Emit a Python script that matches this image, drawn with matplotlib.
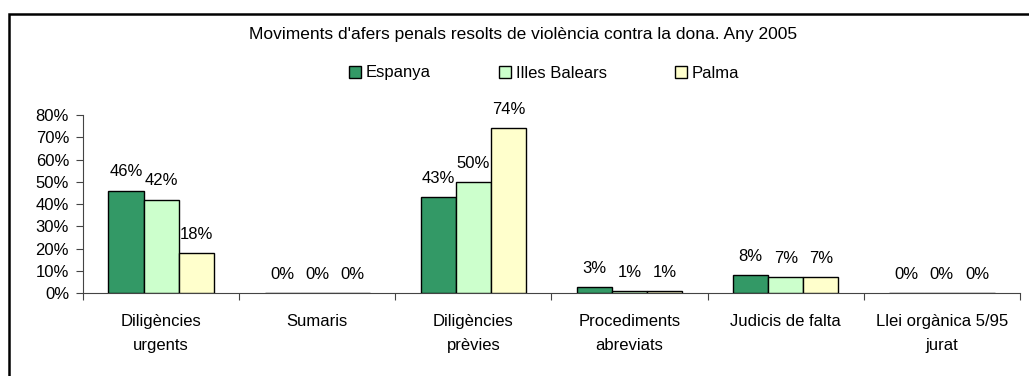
import numpy as np
import matplotlib.pyplot as plt
from matplotlib.patches import Rectangle
from matplotlib.lines import Line2D

plt.rcParams['font.family'] = ['Liberation Sans', 'DejaVu Sans']

categories = ["Diligències\nurgents", "Sumaris", "Diligències\nprèvies",
              "Procediments\nabreviats", "Judicis de falta", "Llei orgànica 5/95\njurat"]
series = ["Espanya", "Illes Balears", "Palma"]
espanya = [0.46, 0.0, 0.43, 0.026, 0.08, 0.0]
balears = [0.42, 0.0, 0.50, 0.008, 0.07, 0.0]
palma = [0.18, 0.0, 0.74, 0.008, 0.07, 0.0]
colors = ["#339966", "#CCFFCC", "#FFFFCC"]
fs = 12

fig = plt.figure(figsize=(10.29, 3.76), dpi=100)
ax = fig.add_axes([83 / 1029, 1 - 293 / 376, (1020 - 83) / 1029, (293 - 115) / 376])

# outer chart border (only top and left visible)
fig.patches.append(Rectangle((9 / 1029, -0.1), 1.2, 1.1 - 14 / 376, transform=fig.transFigure,
                             fill=False, edgecolor="black", linewidth=1.8))

x = np.arange(len(categories))
w = 0.225
for i, (vals, col) in enumerate(zip([espanya, balears, palma], colors)):
    pos = x + (i - 1) * w
    ax.bar(pos, vals, width=w, color=col, edgecolor="black", linewidth=1.0, zorder=3)
    for p, v in zip(pos, vals):
        ax.annotate(f"{v:.0%}", (p, v), xytext=(0, 13.5), textcoords="offset points",
                    ha="center", va="center", fontsize=fs)

ax.set_xlim(-0.5, len(categories) - 0.5)
ax.set_ylim(0, 0.8)
ax.set_yticks(np.arange(0, 0.81, 0.1))
ax.set_yticklabels([f"{int(round(t * 100))}%" for t in np.arange(0, 0.81, 0.1)], fontsize=fs)
ax.set_xticks(np.arange(-0.5, len(categories)), minor=False)
ax.set_xticklabels([])
ax.set_xticks(x, minor=True)
ax.set_xticklabels(categories, minor=True, fontsize=fs, linespacing=1.8)
ax.tick_params(axis="x", which="minor", length=0, pad=15)
ax.tick_params(axis="x", which="major", length=5, width=0.8, direction="out", color="#444444")
ax.tick_params(axis="y", length=5, width=0.8, direction="out", pad=5, color="#444444")
for s in ["top", "right"]:
    ax.spines[s].set_visible(False)
for s in ["left", "bottom"]:
    ax.spines[s].set_color("#444444")
    ax.spines[s].set_linewidth(0.8)

fig.text(523 / 1029, 1 - 34 / 376, "Moviments d'afers penals resolts de violència contra la dona. Any 2005",
         ha="center", va="center", fontsize=12.5)

handles = [Line2D([], [], marker="s", linestyle="none", markersize=8, markerfacecolor=c,
                  markeredgecolor="black", markeredgewidth=1.0) for c in colors]
fig.legend(handles, series, loc="center", bbox_to_anchor=(544 / 1029, 1 - 73 / 376), ncol=3,
           frameon=False, fontsize=fs, handlelength=0.7, handletextpad=0.3, columnspacing=4.1)

fig.savefig("out.png", dpi=100)
